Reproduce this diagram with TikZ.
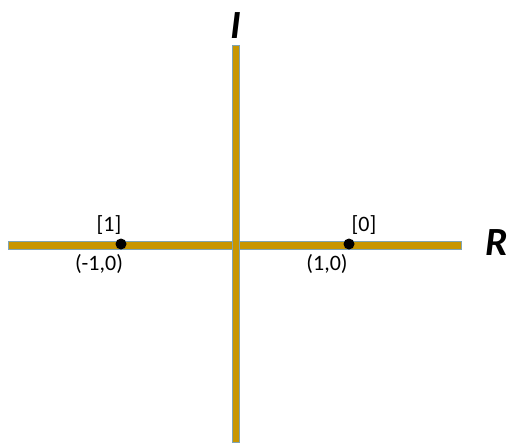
\documentclass[tikz,border=0pt]{standalone}
\usepackage{fontspec}
\setmainfont{Carlito}
\begin{document}
\begin{tikzpicture}[x=1pt,y=-1pt,
  bar/.style={draw=edgecol, line width=0.6pt, fill=barcol},
  pt/.style={circle, fill=black, inner sep=0pt, minimum size=11pt},
  lbl/.style={font=\fontsize{22}{24}\selectfont, inner sep=0pt},
  axl/.style={font=\fontsize{40}{44}\selectfont\bfseries\itshape, inner sep=0pt}]
\definecolor{barcol}{HTML}{C89600}
\definecolor{edgecol}{HTML}{7FA4B4}
\useasboundingbox (0,0) rectangle (508,442);
\fill[white] (0,0) rectangle (508,442);
\draw[bar] (8,241) rectangle (461,249);
\draw[bar] (232.5,45) rectangle (239.5,442);
\fill[barcol] (232.8,241.3) rectangle (239.2,248.7);
\node[pt] (m1) at (121,244) {};
\node[pt] (p1) at (349,244) {};
\node[lbl] (l1) at (109,225) {[1]};
\node[lbl] (lm1) at (99,264) {(-1,0)};
\node[lbl] (l0) at (364,225) {[0]};
\node[lbl] (lp1) at (327,264) {(1,0)};
\node[axl] (I) at (236,26) {I};
\node[axl] (R) at (497,243) {R};
\end{tikzpicture}
\end{document}
